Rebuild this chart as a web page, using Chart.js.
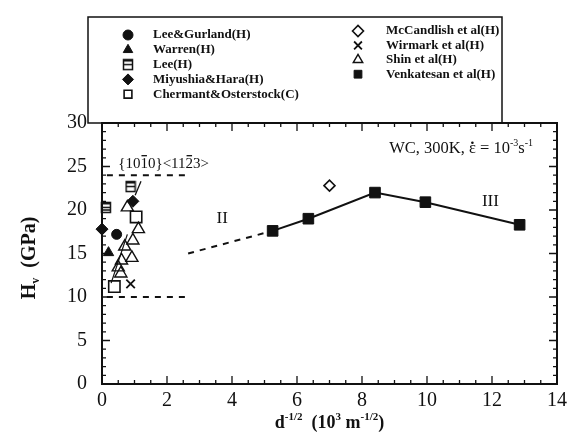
<!DOCTYPE html>
<html>
<head>
<meta charset="utf-8">
<script src="https://cdn.jsdelivr.net/npm/chart.js"></script>
<style>
  html, body { margin: 0; padding: 0; background: #fff; }
  #wrap { width: 572px; height: 440px; }
</style>
</head>
<body>
<div id="wrap"><canvas id="chart" width="572" height="440"></canvas></div>
<script>
// Hv (GPa) against d^-1/2 (10^3 m^-1/2)
const leeGurlandX = [0.45];
const leeGurlandY = [17.2];
const warrenX = [0.2];
const warrenY = [15.1];
const leeX = [0.88, 0.12];
const leeY = [22.7, 20.3];
const miyushiaX = [0.0, 0.95];
const miyushiaY = [17.8, 21.0];
const chermantX = [1.05, 0.38];
const chermantY = [19.2, 11.2];
const mcCandlishX = [7.0];
const mcCandlishY = [22.8];
const wirmarkX = [0.88];
const wirmarkY = [11.5];
const shinX = [0.78, 1.12, 0.95, 0.7, 0.92, 0.6, 0.5, 0.58];
const shinY = [20.3, 17.8, 16.5, 15.8, 14.5, 14.2, 13.4, 12.7];
const venkX = [5.25, 6.35, 8.4, 9.95, 12.85];
const venkY = [17.6, 19.0, 22.0, 20.9, 18.3];

// guide lines
const regimeIIX = [2.65, 5.25];
const regimeIIY = [15.0, 17.6];
const upperX = [0.15, 2.6];
const upperY = [24, 24];
const lowerX = [0.15, 2.6];
const lowerY = [10, 10];
const trendX = [0.28, 0.78];
const trendY = [11.6, 17.2];
const slashX = [1.02, 1.2];
const slashY = [21.7, 23.3];

const xTicks = [0, 2, 4, 6, 8, 10, 12, 14];
const yTicks = [0, 5, 10, 15, 20, 25, 30];

const INK = '#111';
const SERIF = '"Liberation Serif", "DejaVu Serif", serif';

const pts = (xs, ys) => xs.map((x, i) => ({ x, y: ys[i] }));

function leeMarker() {
  const c = document.createElement('canvas');
  c.width = 12; c.height = 13;
  const g = c.getContext('2d');
  g.strokeStyle = INK; g.fillStyle = INK; g.lineWidth = 1.5;
  g.strokeRect(1.5, 1.5, 9, 10);
  g.beginPath(); g.moveTo(1.5, 6.5); g.lineTo(10.5, 6.5); g.stroke();
  g.fillRect(1, 1, 10, 2.5);
  return c;
}
const leeImg = leeMarker();

function marker(label, xs, ys, style, radius, filled, slot, extra) {
  return Object.assign({
    label, data: pts(xs, ys), showLine: false, clip: false,
    pointStyle: style, pointRadius: radius,
    pointBackgroundColor: filled ? INK : 'rgba(0,0,0,0)',
    pointBorderColor: INK, pointBorderWidth: filled ? 1 : 1.6,
    borderColor: INK, backgroundColor: filled ? INK : 'rgba(0,0,0,0)',
    legendSlot: slot
  }, extra || {});
}

function guide(xs, ys, dash, width) {
  return {
    data: pts(xs, ys), showLine: true, pointRadius: 0, clip: false,
    borderColor: INK, borderWidth: width || 2, borderDash: dash || []
  };
}

const datasets = [
  guide(regimeIIX, regimeIIY, [6, 6]),
  guide(upperX, upperY, [6, 6]),
  guide(lowerX, lowerY, [6, 6]),
  guide(trendX, trendY, [], 1.2),
  guide(slashX, slashY, [], 1.3),
  marker('Lee&Gurland(H)', leeGurlandX, leeGurlandY, 'circle', 5, true, [0, 0]),
  marker('Warren(H)', warrenX, warrenY, 'triangle', 6, true, [0, 1]),
  marker('Lee(H)', leeX, leeY, leeImg, 6, false, [0, 2]),
  marker('Miyushia&Hara(H)', miyushiaX, miyushiaY, 'rectRot', 6, true, [0, 3]),
  marker('Chermant&Osterstock(C)', chermantX, chermantY, 'rect', 8, false, [0, 4]),
  marker('McCandlish et al(H)', mcCandlishX, mcCandlishY, 'rectRot', 5.5, false, [1, 0]),
  marker('Wirmark et al(H)', wirmarkX, wirmarkY, 'crossRot', 6, false, [1, 1], { pointBorderWidth: 1.8 }),
  marker('Shin et al(H)', shinX, shinY, 'triangle', 7, false, [1, 2], { pointBorderWidth: 1.4 }),
  marker('Venkatesan et al(H)', venkX, venkY, 'rect', 7.5, true, [1, 3], { showLine: true, borderWidth: 2 })
];

// rich text: [text, mode] with mode n | sup | sub | bar | dot
function drawRich(ctx, parts, x, y, size, weight, align) {
  const base = `${weight} ${size}px ${SERIF}`;
  const small = `${weight} ${Math.round(size * 0.62)}px ${SERIF}`;
  const fontOf = p => (p[1] === 'sup' || p[1] === 'sub') ? small : base;
  const widthOf = p => { ctx.font = fontOf(p); return ctx.measureText(p[0]).width; };
  const total = parts.reduce((s, p) => s + widthOf(p), 0);
  let cx = align === 'center' ? x - total / 2 : align === 'right' ? x - total : x;
  ctx.textAlign = 'left';
  ctx.textBaseline = 'alphabetic';
  for (const p of parts) {
    const w = widthOf(p);
    let dy = 0;
    if (p[1] === 'sup') dy = -size * 0.42;
    if (p[1] === 'sub') dy = size * 0.22;
    ctx.fillText(p[0], cx, y + dy);
    if (p[1] === 'bar') ctx.fillRect(cx + 1, y - size * 0.88, w - 2, 1.3);
    if (p[1] === 'dot') { ctx.beginPath(); ctx.arc(cx + w / 2, y - size * 0.62, 1.3, 0, Math.PI * 2); ctx.fill(); }
    cx += w;
  }
}

const framePlugin = {
  id: 'frame',
  beforeDatasetsDraw(chart) {
    const { ctx, chartArea: a, scales: { x, y } } = chart;
    ctx.save();
    ctx.strokeStyle = INK;
    ctx.lineWidth = 2;
    ctx.strokeRect(a.left, a.top, a.right - a.left, a.bottom - a.top);
    ctx.lineWidth = 1.3;
    ctx.beginPath();
    for (let i = 0; i <= 28; i++) {
      const px = x.getPixelForValue(i * 0.5);
      const len = i % 4 === 0 ? 8 : 4;
      ctx.moveTo(px, a.bottom); ctx.lineTo(px, a.bottom - len);
      ctx.moveTo(px, a.top); ctx.lineTo(px, a.top + len);
    }
    for (let i = 0; i <= 30; i++) {
      const py = y.getPixelForValue(i);
      const len = i % 5 === 0 ? 8 : 4;
      ctx.moveTo(a.left, py); ctx.lineTo(a.left + len, py);
      ctx.moveTo(a.right, py); ctx.lineTo(a.right - len, py);
    }
    ctx.stroke();
    ctx.restore();
  }
};

const textPlugin = {
  id: 'texts',
  afterDraw(chart) {
    const { ctx, chartArea: a, scales: { x, y } } = chart;
    ctx.save();
    ctx.fillStyle = INK;

    // legend box, two columns
    const box = { left: 88, top: 17, right: 502, bottom: a.top };
    ctx.strokeStyle = INK;
    ctx.lineWidth = 1.5;
    ctx.strokeRect(box.left, box.top, box.right - box.left, box.bottom - box.top);
    const cols = [{ sx: 128, tx: 153, y0: 35, dy: 14.8 }, { sx: 358, tx: 386, y0: 31, dy: 14.4 }];
    chart.data.datasets.forEach(ds => {
      if (!ds.legendSlot) return;
      const c = cols[ds.legendSlot[0]];
      const yy = c.y0 + ds.legendSlot[1] * c.dy;
      ctx.fillStyle = ds.pointBackgroundColor;
      ctx.strokeStyle = INK;
      ctx.lineWidth = ds.pointBorderWidth;
      Chart.helpers.drawPoint(ctx, {
        pointStyle: ds.pointStyle, radius: Math.min(ds.pointRadius, 5.5),
        borderWidth: ds.pointBorderWidth, rotation: 0
      }, c.sx, yy);
      ctx.fillStyle = INK;
      ctx.font = `bold 13px ${SERIF}`;
      ctx.textAlign = 'left';
      ctx.textBaseline = 'middle';
      ctx.fillText(ds.label, c.tx, yy);
    });

    // annotations
    drawRich(ctx, [['WC, 300K, ', 'n'], ['ε', 'dot'], [' = 10', 'n'], ['-3', 'sup'], ['s', 'n'], ['-1', 'sup']],
      a.right - 24, 153, 16.5, 'normal', 'right');
    drawRich(ctx, [['{10', 'n'], ['1', 'bar'], ['0}<11', 'n'], ['2', 'bar'], ['3>', 'n']],
      x.getPixelForValue(0.5), y.getPixelForValue(24.8), 15, 'normal', 'left');
    drawRich(ctx, [['II', 'n']], x.getPixelForValue(3.7), y.getPixelForValue(18.5), 17, 'normal', 'center');
    drawRich(ctx, [['III', 'n']], x.getPixelForValue(11.95), y.getPixelForValue(20.5), 17, 'normal', 'center');

    // axis titles
    drawRich(ctx, [['d', 'n'], ['-1/2', 'sup'], ['  (10', 'n'], ['3', 'sup'], [' m', 'n'], ['-1/2', 'sup'], [')', 'n']],
      (a.left + a.right) / 2, 428, 18, 'bold', 'center');
    ctx.translate(28, 258);
    ctx.rotate(-Math.PI / 2);
    drawRich(ctx, [['H', 'n'], ['v', 'sub'], ['  (GPa)', 'n']], 0, 7, 20, 'bold', 'center');
    ctx.restore();
  }
};

new Chart(document.getElementById('chart'), {
  type: 'scatter',
  data: { datasets },
  options: {
    responsive: false,
    animation: false,
    events: [],
    layout: { padding: { left: 0, right: 12, top: 123, bottom: 0 } },
    plugins: { legend: { display: false }, tooltip: { enabled: false } },
    scales: {
      x: {
        type: 'linear', min: 0, max: 14,
        grid: { display: false, drawTicks: false },
        border: { display: false },
        afterBuildTicks: s => { s.ticks = xTicks.map(v => ({ value: v })); },
        afterFit: s => { s.height = 56; },
        ticks: { font: { family: SERIF, size: 20 }, color: INK, padding: 5, maxRotation: 0, autoSkip: false }
      },
      y: {
        type: 'linear', min: 0, max: 30,
        grid: { display: false, drawTicks: false },
        border: { display: false },
        afterBuildTicks: s => { s.ticks = yTicks.map(v => ({ value: v })); },
        afterFit: s => { s.width = 102; },
        ticks: { font: { family: SERIF, size: 20 }, color: INK, padding: 15, autoSkip: false }
      }
    }
  },
  plugins: [framePlugin, textPlugin]
});
</script>
</body>
</html>
